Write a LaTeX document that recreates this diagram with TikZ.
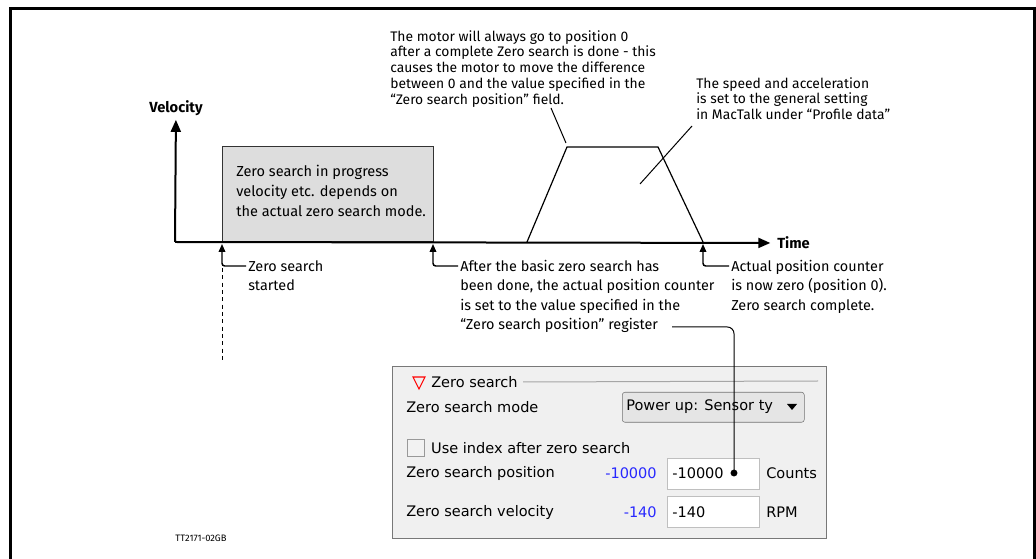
\documentclass[tikz,border=0pt]{standalone}
\usepackage{fontspec}
\setmainfont{Fira Sans}
\newfontfamily\panelfont{DejaVu Sans}
\usetikzlibrary{arrows.meta,calc,positioning}
\definecolor{boxgray}{RGB}{221,221,221}
\definecolor{panelgray}{RGB}{240,240,240}
\definecolor{edgegray}{RGB}{120,120,120}
\definecolor{uiblue}{RGB}{40,40,255}
\tikzset{
  axis line/.style={line width=1.5pt,-{Triangle[length=9pt,width=7.5pt]}},
  mark line/.style={line width=1.1pt,rounded corners=2pt,-{Triangle[length=6pt,width=5pt]}},
  lead line/.style={line width=0.75pt},
  note/.style={anchor=north west,align=left,inner sep=0pt,font=\fontsize{10.8}{14.6}\selectfont},
  top note/.style={note,font=\fontsize{10.4}{11.8}\selectfont},
  box note/.style={note,font=\fontsize{10.9}{15}\selectfont},
  axis label/.style={inner sep=0pt,font=\bfseries\fontsize{11}{12}\selectfont},
  ui text/.style={anchor=west,inner sep=0pt,font=\panelfont\fontsize{10.9}{12}\selectfont},
  ui field/.style={draw=black!25,fill=white,line width=0.6pt,anchor=north west,inner sep=0pt,minimum width=69pt,minimum height=23pt},
}

\begin{document}
\begin{tikzpicture}[x=0.75pt,y=-0.75pt]
  \useasboundingbox (0,0) rectangle (1036,559);
  \draw[line width=2.25pt] (10.5,559) -- (10.5,8.5) -- (1034.5,8.5) -- (1034.5,559);

  % search phase and axes
  \node[draw=black!80,fill=boxgray,line width=1pt,minimum width=158.25pt,minimum height=71.25pt,
        anchor=south west,inner sep=0pt] (zsbox) at (222,242) {};
  \node[box note] (zstext) at (236,165) {Zero search in progress\\velocity etc. depends on\\the actual zero search mode.};
  \coordinate (o) at (175,242);
  \node[axis label] (vel) at (176,108) {Velocity};
  \node[axis label,anchor=west] (time) at (777,243) {Time};
  \draw[axis line,shorten >=3pt] (o) -- (vel);
  \draw[axis line,shorten >=5pt] (o) -- (time);

  % move to position 0
  \coordinate (r1) at (527,242);
  \coordinate (r2) at (567,147);
  \coordinate (r3) at (658,147);
  \coordinate (r4) at (703,242);
  \draw[line width=0.9pt] (r1) -- (r2) -- (r3) -- (r4);

  \node[top note] (motor) at (390,30) {The motor will always go to position 0\\after a complete Zero search is done - this\\causes the motor to move the difference\\between 0 and the value specified in the\\“Zero search position” field.};
  \coordinate (mfoot) at (551,108);
  \coordinate (mhead) at (566,143);
  \draw[lead line] (mfoot) -- (mhead);
  \node[top note] (speed) at (696,77) {The speed and acceleration\\is set to the general setting\\in MacTalk under “Profile data”};
  \coordinate (sfoot) at (692,126);
  \coordinate (shead) at (640,184);
  \draw[lead line] (sfoot) -- (shead);

  % markers under the time axis
  \coordinate (m1) at (222,244);
  \coordinate (m2) at (433,244);
  \coordinate (m3) at (703,244);
  \node[note] (started) at (248,260) {Zero search\\started};
  \node[note] (basic) at (460,260) {After the basic zero search has\\been done, the actual position counter\\is set to the value specified in the\\“Zero search position” register};
  \node[note] (complete) at (731,260) {Actual position counter\\is now zero (position 0).\\Zero search complete.};
  \draw[mark line] ($(started.north west)+(-2,6)$) -| (m1);
  \draw[mark line] ($(basic.north west)+(-2,6)$) -| (m2);
  \draw[mark line] ($(complete.north west)+(-2,6)$) -| (m3);
  \coordinate (dtop) at (222,268);
  \coordinate (dbot) at (222,360);
  \draw[line width=0.75pt,dash pattern=on 3pt off 2.5pt] (dtop) -- (dbot);

  % MacTalk panel
  \node[draw=edgegray,fill=panelgray,line width=0.75pt,anchor=north west,inner sep=0pt,
        minimum width=325.5pt,minimum height=129pt] (panel) at (392,366) {};
  \draw[red,line width=0.8pt] (413,377) -- (425,377) -- (419,389) -- cycle;
  \node[ui text] (zshead) at (431,382) {Zero search};
  \coordinate (hdend) at (818,381);
  \draw[black!35,line width=0.75pt] ([xshift=4pt]zshead.east) -- (hdend);

  \node[ui text] (modelab) at (406,407) {Zero search mode};
  \node[draw=black!55,fill=black!10,rounded corners=2pt,anchor=north west,inner sep=0pt,
        minimum width=136.5pt,minimum height=22.5pt] (mode) at (622,392) {};
  \node[ui text] (modeval) at (626,407) {Power up: Sensor ty};
  \fill (787,404) -- (797,404) -- (792,410) -- cycle;

  \node[draw=black!40,fill=black!5,anchor=north west,inner sep=0pt,minimum size=13pt] (chk) at (407,439) {};
  \node[ui text,right=4.5pt of chk] (chklab) {Use index after zero search};

  \node[ui text] (poslab) at (406,473) {Zero search position};
  \node[ui text,anchor=east,text=uiblue] (posdef) at (657,473) {-10000};
  \node[ui field] (posbox) at (667,458) {};
  \node[ui text] (posval) at (672,473) {-10000};
  \node[ui text] (posunit) at (766,473) {Counts};

  \node[ui text] (vellab) at (406,512) {Zero search velocity};
  \node[ui text,anchor=east,text=uiblue] (veldef) at (657,512) {-140};
  \node[ui field] (velbox) at (667,496) {};
  \node[ui text] (velval) at (672,512) {-140};
  \node[ui text] (velunit) at (766,512) {RPM};

  % register value goes into the position field
  \coordinate (regend) at (672,327);
  \coordinate (posdot) at (734,473);
  \draw[lead line,rounded corners=5pt] (regend) -| (posdot);
  \fill (posdot) circle (2.6pt);

  \node[inner sep=0pt,font=\fontsize{7}{8}\selectfont] (code) at (201,538) {TT2171-02GB};
\end{tikzpicture}
\end{document}
